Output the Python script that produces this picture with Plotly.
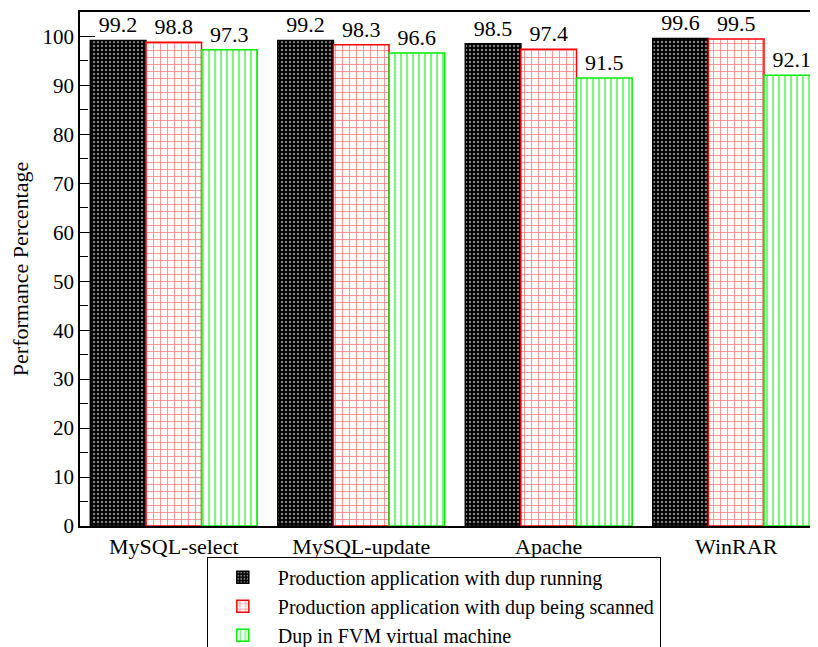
import plotly.graph_objects as go

categories = ["MySQL-select", "MySQL-update", "Apache", "WinRAR"]
running = [99.2, 99.2, 98.5, 99.6]
scanned = [98.8, 98.3, 97.4, 99.5]
fvm = [97.3, 96.6, 91.5, 92.1]
series_names = [
    "Production application with dup running",
    "Production application with dup being scanned",
    "Dup in FVM virtual machine",
]

font = "Liberation Serif"

fig = go.Figure()
styles = [
    dict(fg="white", bg="black", shape=".", line="black", size=4, sol=0.3),
    dict(fg="red", bg="white", shape="+", line="red", size=7, sol=0.22),
    dict(fg="#00ee00", bg="white", shape="|", line="#00ee00", size=6, sol=0.35),
]
for vals, name, st in zip([running, scanned, fvm], series_names, styles):
    fig.add_trace(go.Bar(
        x=categories, y=vals, name=name,
        text=[f"{v:.1f}" for v in vals], textposition="outside",
        textfont=dict(family=font, size=22, color="black"),
        cliponaxis=False,
        marker=dict(color=st["bg"], line=dict(color=st["line"], width=1.5),
                    pattern=dict(shape=st["shape"], fgcolor=st["fg"], bgcolor=st["bg"],
                                 size=st["size"], solidity=st["sol"], fillmode="overlay")),
    ))

fig.update_layout(
    width=818, height=647,
    margin=dict(l=72, r=0, t=4, b=129, autoexpand=False),
    paper_bgcolor="white", plot_bgcolor="white",
    barmode="group", bargap=0.11, bargroupgap=0,
    font=dict(family=font, size=22, color="black"),
    showlegend=True,
    legend=dict(x=0.170, xanchor="left", y=-0.060, yanchor="top",
                bordercolor="black", borderwidth=1, bgcolor="white",
                font=dict(family=font, size=20), tracegroupgap=0, itemwidth=60),
)
fig.update_xaxes(range=[-0.5, 3.479], showline=True, linecolor="black", linewidth=1.5,
                 mirror=True, ticks="", automargin=False,
                 tickfont=dict(family=font, size=22))
fig.update_yaxes(range=[0, 105], showline=True, linecolor="black", linewidth=1.5,
                 mirror="ticks",
                 ticks="inside", ticklen=15, tickwidth=1, tickcolor="black",
                 dtick=10, tick0=0, showgrid=False, zeroline=False,
                 minor=dict(ticks="inside", ticklen=8, dtick=5, tickcolor="black"),
                 layer="below traces", automargin=False,
                 title=dict(text="Performance Percentage", font=dict(family=font, size=22)),
                 tickfont=dict(family=font, size=21))

fig.write_html("out.html")
